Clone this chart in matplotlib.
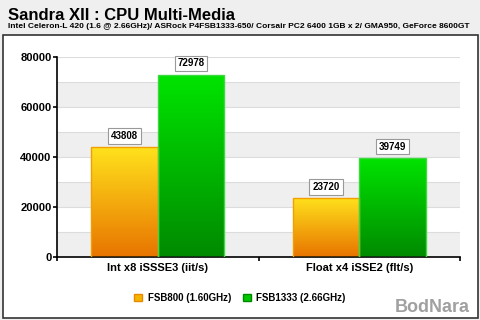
import matplotlib
matplotlib.use("Agg")
import matplotlib.pyplot as plt
import numpy as np
from matplotlib.colors import LinearSegmentedColormap
from matplotlib.patches import Patch, Rectangle

plt.rcParams["font.family"] = ["Liberation Sans", "DejaVu Sans"]

# data
categories = ["Int x8 iSSSE3 (iit/s)", "Float x4 iSSE2 (flt/s)"]
series_names = ["FSB800 (1.60GHz)", "FSB1333 (2.66GHz)"]
fsb800 = [43808, 23720]
fsb1333 = [72978, 39749]
y_ticks = [0, 20000, 40000, 60000, 80000]

title = "Sandra XII : CPU Multi-Media"
subtitle = ("Intel Celeron-L 420 (1.6 @ 2.66GHz)/ ASRock P4FSB1333-650/ "
            "Corsair PC2 6400 1GB x 2/ GMA950, GeForce 8600GT")

orange_cmap = LinearSegmentedColormap.from_list("o", ["#e87400", "#ffe21c"])
green_cmap = LinearSegmentedColormap.from_list("g", ["#008a00", "#00e400"])

fig = plt.figure(figsize=(4.8, 3.2), dpi=100)
fig.patch.set_facecolor("#efefef")

# white panel with border
panel = Rectangle((3 / 480, 2 / 320), 475 / 480, 283 / 320, transform=fig.transFigure,
                  facecolor="white", edgecolor="#333333", linewidth=1.2, zorder=-5)
fig.patches.append(panel)

fig.text(8 / 480, 1 - 15 / 320, title, fontsize=12, fontweight="bold", va="center", ha="left")
fig.text(8 / 480, 1 - 27 / 320, subtitle, fontsize=6.0, fontweight="bold", va="center", ha="left")

ax = fig.add_axes([57 / 480, 63 / 320, 403 / 480, 200 / 320])
ax.set_facecolor("white")
ax.set_xlim(0, 2)
ax.set_ylim(0, 80000)

# alternating background bands
for lo in range(0, 80000, 20000):
    ax.axhspan(lo, lo + 10000, color="#efefef", zorder=0, linewidth=0)
for g in range(10000, 80001, 10000):
    ax.axhline(g, color="#dcdcdc", linewidth=0.8, zorder=0.5)

width = 0.33
x = np.arange(len(categories)) + 0.5
grad = np.linspace(0, 1, 256).reshape(-1, 1)

for vals, offset, cmap, edge in [(fsb800, -width / 2, orange_cmap, "#f2a000"),
                                 (fsb1333, width / 2, green_cmap, "#40d840")]:
    bars = ax.bar(x + offset, vals, width, facecolor="none", edgecolor=edge,
                  linewidth=1.0, zorder=3)
    for bar, v in zip(bars, vals):
        x0 = bar.get_x()
        img = ax.imshow(grad, extent=[x0, x0 + bar.get_width(), 0, v], origin="lower",
                        aspect="auto", cmap=cmap, zorder=2)
        img.set_clip_path(bar)
        ax.annotate(f"{v}", (x0 + bar.get_width() / 2, v), xytext=(0, 8),
                    textcoords="offset points", ha="center", va="center",
                    fontsize=7, fontweight="bold", zorder=5,
                    bbox=dict(boxstyle="square,pad=0.3", facecolor="white",
                              edgecolor="#999999", linewidth=0.8))

ax.set_xlim(0, 2)
ax.set_ylim(0, 80000)

for s in ["top", "right"]:
    ax.spines[s].set_visible(False)
ax.spines["left"].set_linewidth(1.2)
ax.spines["bottom"].set_linewidth(1.2)

ax.set_yticks(y_ticks)
ax.set_yticklabels([str(t) for t in y_ticks], fontsize=8, fontweight="bold")
ax.tick_params(axis="y", length=3, width=1.2, pad=1)
ax.set_xticks([0, 1, 2])
ax.set_xticklabels([])
ax.tick_params(axis="x", length=3, width=1.2)
ax.set_xticks(x, minor=True)
ax.set_xticklabels(categories, minor=True, fontsize=8, fontweight="bold")
ax.tick_params(axis="x", which="minor", length=0, pad=4)

handles = [Patch(facecolor="#f5b400", edgecolor="#e88a00", label=series_names[0]),
           Patch(facecolor="#00c800", edgecolor="#008800", label=series_names[1])]
fig.legend(handles=handles, loc="center", bbox_to_anchor=(240 / 480, 1 - 298 / 320),
           ncol=2, frameon=False, handlelength=0.8, handleheight=0.8,
           handletextpad=0.6, columnspacing=1.2, prop={"weight": "bold", "size": 7})

fig.text(470 / 480, 1 - 307 / 320, "BodNara", fontsize=13, fontweight="bold",
         color="#a0a0a0", ha="right", va="center")

plt.savefig("out.png", dpi=100, facecolor=fig.get_facecolor())
